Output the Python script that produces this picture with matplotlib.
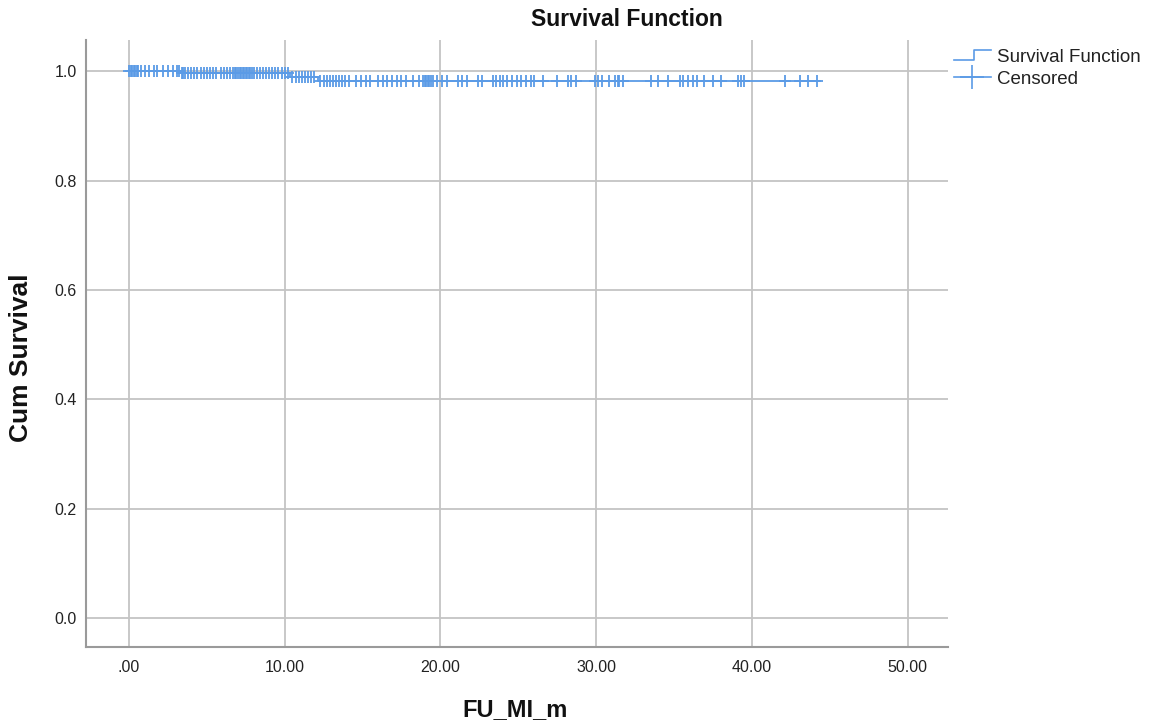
import matplotlib
matplotlib.use("Agg")
import matplotlib.pyplot as plt
import numpy as np
from matplotlib.lines import Line2D
from matplotlib.legend_handler import HandlerBase

# Step function (event times and survival after each step)
step_times = [0.0, 3.3, 10.35, 12.15, 44.4]
step_surv = [1.0, 0.997, 0.990, 0.982, 0.982]

censored_times = [
    0.0, 0.1, 0.2, 0.3, 0.4, 0.5, 0.6, 0.8, 1.0, 1.3, 1.6, 1.8, 2.2, 2.5, 2.8, 3.1, 3.2,
    3.4, 3.5, 3.6, 3.8, 4.0, 4.2, 4.4, 4.6, 4.8, 5.0, 5.2, 5.4, 5.6, 5.9, 6.1, 6.3,
    6.5, 6.7, 6.8, 6.9, 7.0, 7.1, 7.2, 7.3, 7.4, 7.5, 7.6, 7.7, 7.8, 7.9, 8.0, 8.2,
    8.4, 8.6, 8.8, 9.0, 9.2, 9.4, 9.6, 9.8, 10.0, 10.2,
    10.5, 10.7, 10.9, 11.1, 11.3, 11.5, 11.7, 11.9,
    12.3, 12.5, 12.7, 12.9, 13.1, 13.3, 13.5, 13.7, 13.9, 14.1,
    14.6, 14.9, 15.2, 15.5,
    16.0, 16.3, 16.6, 16.9, 17.2, 17.5, 17.8,
    18.25, 18.6, 18.9, 19.0, 19.1, 19.2, 19.3, 19.4, 19.5,
    19.8, 20.1, 20.4, 21.1, 21.4, 21.7, 22.4, 22.7,
    23.4, 23.6, 23.8, 24.0, 24.3, 24.6, 24.9, 25.2, 25.5, 25.8, 26.0,
    26.6, 27.5, 28.2, 28.4, 28.7,
    29.9, 30.1, 30.4, 30.8, 31.2, 31.4, 31.5, 31.7,
    33.5, 34.0, 34.6, 35.4, 35.6, 35.9, 36.2, 36.5, 36.9, 37.5, 38.0,
    39.1, 39.3, 39.5, 42.1, 43.1, 43.6, 44.2,
]

xticks = [0, 10, 20, 30, 40, 50]
xtick_labels = [".00", "10.00", "20.00", "30.00", "40.00", "50.00"]
yticks = [0.0, 0.2, 0.4, 0.6, 0.8, 1.0]
ytick_labels = ["0.0", "0.2", "0.4", "0.6", "0.8", "1.0"]

BLUE = "#5b9be6"
GRID = "#c4c4c4"
SPINE = "#9a9a9a"

plt.rcParams['font.family'] = ['Liberation Sans', 'DejaVu Sans']

fig = plt.figure(figsize=(11.52, 7.27), dpi=100)
ax = fig.add_axes([86/1152, 1-647/727, (948-86)/1152, (647-40)/727])

ax.step(step_times, step_surv, where='post', color=BLUE, lw=1.3, zorder=3)

def surv_at(t):
    idx = np.searchsorted(step_times, t, side='right') - 1
    idx = max(idx, 0)
    return step_surv[idx]

cy = [surv_at(t) for t in censored_times]
ax.plot(censored_times, cy, linestyle='none', marker='+', ms=9, mew=1.3,
        color=BLUE, zorder=4)

ax.set_xlim(-2.76, 52.6)
ax.set_ylim(-0.053, 1.057)
ax.set_xticks(xticks)
ax.set_xticklabels(xtick_labels)
ax.set_yticks(yticks)
ax.set_yticklabels(ytick_labels)
ax.tick_params(axis='x', length=0, labelsize=11.5, colors='#222222', pad=9.5)
ax.tick_params(axis='y', length=0, labelsize=11.5, colors='#222222', pad=6.5)
ax.grid(True, color=GRID, lw=1.3, zorder=0)
ax.set_axisbelow(True)
for s in ['top', 'right']:
    ax.spines[s].set_visible(False)
for s in ['left', 'bottom']:
    ax.spines[s].set_color(SPINE)
    ax.spines[s].set_linewidth(1.5)

fig.text(627/1152, 1-20/727, "Survival Function", fontsize=16.5, fontweight='bold',
         ha='center', va='center', color='#111111')
fig.text(515/1152, 1-710/727, "FU_MI_m", fontsize=17, fontweight='bold',
         ha='center', va='center', color='#111111')
fig.text(21/1152, 1-358/727, "Cum Survival", fontsize=19, fontweight='bold',
         ha='center', va='center', rotation=90, color='#111111')


class StepHandler(HandlerBase):
    def create_artists(self, legend, orig_handle, xdescent, ydescent, width, height, fontsize, trans):
        x0 = -xdescent
        y0 = -ydescent
        xs = [x0, x0 + width * 0.55, x0 + width * 0.55, x0 + width]
        ys = [y0 + height * 0.1, y0 + height * 0.1, y0 + height * 0.85, y0 + height * 0.85]
        ln = Line2D(xs, ys, color=BLUE, lw=1.2, transform=trans)
        return [ln]


h_surv = Line2D([], [], color=BLUE)
h_cens = Line2D([], [], color=BLUE, lw=1.2, marker='+', ms=17, mew=1.2)
leg = fig.legend([h_surv, h_cens], ["Survival Function", "Censored"],
                 handler_map={h_surv: StepHandler()},
                 loc='upper left', bbox_to_anchor=(946/1152, 1-41/727),
                 frameon=False, fontsize=13.5, handlelength=2.0, handletextpad=0.3,
                 labelspacing=0.28, borderaxespad=0)
for t in leg.get_texts():
    t.set_color('#222222')

fig.savefig("out.png", dpi=100)
